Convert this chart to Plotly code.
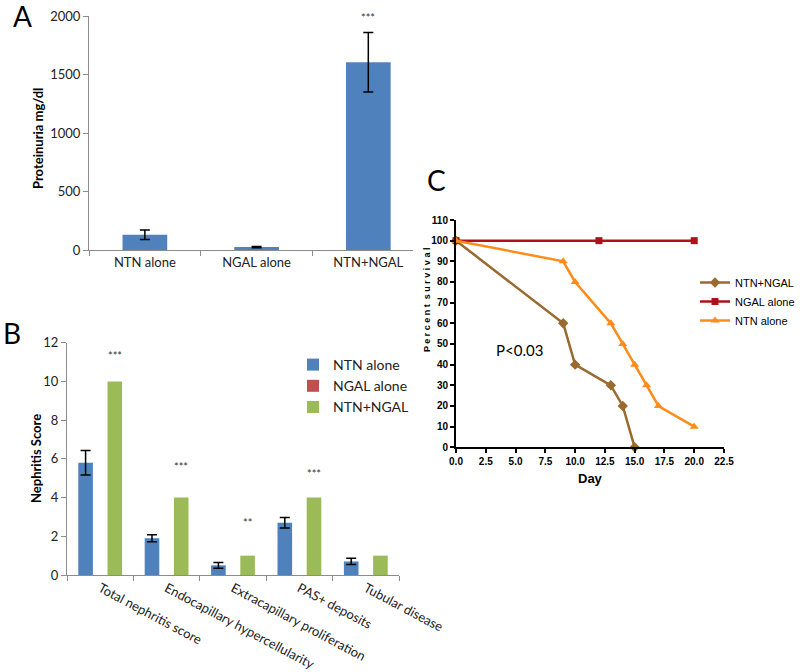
import plotly.graph_objects as go

# Panel A: proteinuria
groups_a = ['NTN alone', 'NGAL alone', 'NTN+NGAL']
prot_mean = [130, 25, 1605]
prot_err = [40, 5, 255]
prot_sig = ['', '', '***']
prot_sig_y = [0, 0, 1990]

# Panel B: nephritis scores
lesions = ['Total nephritis score', 'Endocapillary hypercellularity',
           'Extracapillary proliferation', 'PAS+ deposits', 'Tubular disease']
ntn_score = [5.8, 1.9, 0.5, 2.7, 0.7]
ntn_score_err = [0.63, 0.18, 0.15, 0.27, 0.16]
ngal_score = [0, 0, 0, 0, 0]
combo_score = [10, 4, 1, 4, 1]
score_sig = ['***', '***', '**', '***', '']
score_sig_y = [11.35, 5.6, 2.7, 5.25, 0]

# Panel C: survival
combo_day = [0, 9, 10, 13, 14, 15]
combo_surv = [100, 60, 40, 30, 20, 0]
ngal_day = [0, 12, 20]
ngal_surv = [100, 100, 100]
ntn_day = [0, 9, 10, 13, 14, 15, 16, 17, 20]
ntn_surv = [100, 90, 80, 60, 50, 40, 30, 20, 10]

W, H = 800, 672
def px(x):
    return x / W
def py(y):
    return 1 - y / H

BLUE = '#4F81BD'
RED = '#C0504D'
GREEN = '#9BBB59'
CAL = 'Lato, Carlito, Calibri, sans-serif'
ARN = 'Liberation Sans Narrow, Liberation Sans, Arial, sans-serif'

fig = go.Figure()

# A
fig.add_trace(go.Bar(
    x=groups_a, y=prot_mean, marker=dict(color=BLUE, line=dict(width=0)),
    error_y=dict(type='data', array=prot_err, color='black', thickness=1.5, width=5),
    width=0.4, showlegend=False, xaxis='x', yaxis='y'
))

# B
fig.add_trace(go.Bar(
    x=lesions, y=ntn_score, name='NTN alone', marker=dict(color=BLUE, line=dict(width=0)),
    error_y=dict(type='data', array=ntn_score_err, color='black', thickness=1.5, width=5),
    xaxis='x2', yaxis='y2', legend='legend'
))
fig.add_trace(go.Bar(
    x=lesions, y=ngal_score, name='NGAL alone', marker=dict(color=RED, line=dict(width=0)),
    xaxis='x2', yaxis='y2', legend='legend'
))
fig.add_trace(go.Bar(
    x=lesions, y=combo_score, name='NTN+NGAL', marker=dict(color=GREEN, line=dict(width=0)),
    xaxis='x2', yaxis='y2', legend='legend'
))

# C
fig.add_trace(go.Scatter(
    x=combo_day, y=combo_surv, name='NTN+NGAL', mode='lines+markers',
    line=dict(color='#9A6A2E', width=2.5), marker=dict(symbol='diamond', size=8),
    cliponaxis=False, xaxis='x3', yaxis='y3', legend='legend2'
))
fig.add_trace(go.Scatter(
    x=ngal_day, y=ngal_surv, name='NGAL alone', mode='lines+markers',
    line=dict(color='#B0101A', width=2.5), marker=dict(symbol='square', size=7),
    cliponaxis=False, xaxis='x3', yaxis='y3', legend='legend2'
))
fig.add_trace(go.Scatter(
    x=ntn_day, y=ntn_surv, name='NTN alone', mode='lines+markers',
    line=dict(color='#FF8C1A', width=2.5), marker=dict(symbol='triangle-up', size=8),
    cliponaxis=False, xaxis='x3', yaxis='y3', legend='legend2'
))

excel_y = dict(showline=True, linecolor='#8C8C8C', linewidth=1, ticks='outside',
               ticklen=5, tickcolor='#8C8C8C', showgrid=False, zeroline=False, automargin=False,
               tickfont=dict(family=CAL, size=13, color='#222'))
excel_x = dict(showline=True, linecolor='#8C8C8C', linewidth=1, ticks='outside',
               ticklen=5, tickcolor='#8C8C8C', showgrid=False, tickson='boundaries', automargin=False,
               type='category', tickfont=dict(family=CAL, size=13, color='#222'))
prism = dict(showline=True, linecolor='black', linewidth=2, ticks='outside', ticklen=4,
             tickwidth=2, tickcolor='black', showgrid=False, zeroline=False, automargin=False,
             tickfont=dict(family=ARN, size=10, color='black', weight='bold'))

def label(text, x, y, size, family=CAL, angle=0, weight='normal'):
    return dict(text=text, x=px(x), y=py(y), xref='paper', yref='paper', showarrow=False,
                xanchor='center', yanchor='middle', textangle=angle,
                font=dict(family=family, size=size, color='black', weight=weight))

annotations = [
    label('A', 22, 16, 28),
    label('B', 12, 333, 28),
    label('C', 436, 180, 28),
    label('Proteinuria mg/dl', 38, 139, 13, angle=-90, weight='bold'),
    label('Nephritis Score', 36, 459, 13, angle=-90, weight='bold'),
    label('P e r c e n t  s u r v i v a l', 427, 300, 9, family='Liberation Sans, Arial',
          angle=-90, weight='bold'),
    label('Day', 590, 478, 13, family='Liberation Sans, Arial', weight='bold'),
    dict(text='P<0.03', x=5.35, y=47, xref='x3', yref='y3', showarrow=False,
         xanchor='center', yanchor='middle', font=dict(family=CAL, size=15, color='black')),
]
for g, s, sy in zip(groups_a, prot_sig, prot_sig_y):
    if s:
        annotations.append(dict(text=s, x=g, y=sy, xref='x', yref='y', showarrow=False,
                                xanchor='center', yanchor='middle',
                                font=dict(family=CAL, size=11, color='#333')))
for i, (s, sy) in enumerate(zip(score_sig, score_sig_y)):
    if s:
        annotations.append(dict(text=s, x=i + 0.22, y=sy, xref='x2', yref='y2', showarrow=False,
                                xanchor='center', yanchor='middle',
                                font=dict(family=CAL, size=11, color='#333')))

fig.update_layout(
    width=W, height=H, margin=dict(l=0, r=0, t=0, b=0, autoexpand=False),
    paper_bgcolor='white', plot_bgcolor='white',
    barmode='group', bargap=0.34, bargroupgap=0,
    xaxis=dict(excel_x, domain=[px(89), px(413)], range=[-0.5, 2.4], anchor='y'),
    yaxis=dict(excel_y, domain=[py(250), py(16)], range=[0, 2000], tickvals=[0, 500, 1000, 1500, 2000], anchor='x'),
    xaxis2=dict(excel_x, domain=[px(67), px(399)], range=[-0.5, 4.5], tickangle=28, anchor='y2'),
    yaxis2=dict(excel_y, domain=[py(575), py(342.7)], range=[0, 12], dtick=2, anchor='x2'),
    xaxis3=dict(prism, domain=[px(456), px(724)], range=[0, 22.5], dtick=2.5, tickformat='.1f', anchor='y3'),
    yaxis3=dict(prism, domain=[py(447.3), py(220)], range=[0, 110], dtick=10, anchor='x3'),
    legend=dict(x=px(293), y=py(349), xanchor='left', yanchor='top', bgcolor='rgba(0,0,0,0)',
                font=dict(family=CAL, size=14, color='#222'), itemwidth=30, tracegroupgap=0),
    legend2=dict(x=px(695), y=py(268), xanchor='left', yanchor='top', bgcolor='rgba(0,0,0,0)',
                 font=dict(family=ARN, size=11, color='black')),
    annotations=annotations,
)

fig.write_html("out.html", config={'displayModeBar': False},
               post_script="document.body.style.margin='0';")
